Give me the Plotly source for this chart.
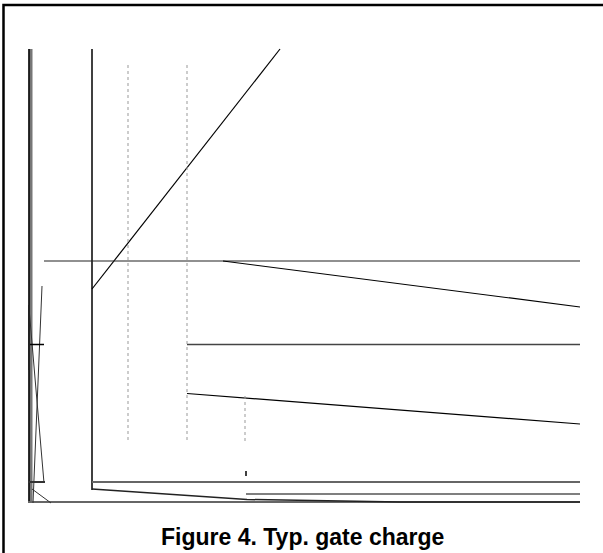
import plotly.graph_objects as go

# Segment data (drawing units, y grows downward)
frame_x = [603, 3.5, 3.5]
frame_y = [5, 5, 553]

axis_left_x = [30.5, 30.5]
axis_left_y = [49, 503]
axis_bottom_x = [28, 580]
axis_bottom_y = [502, 502]

vg_axis_x = [92, 92]
vg_axis_y = [49, 490]

ramp_x = [92, 280]
ramp_y = [289, 49]

plateau1_x = [44, 580]
plateau1_y = [261, 261]
slope1_x = [223, 580]
slope1_y = [261, 307]

plateau2_x = [187, 580]
plateau2_y = [344.5, 344.5]
slope2_x = [187, 580]
slope2_y = [393.5, 424]

low1_x = [92, 580]
low1_y = [482, 482]
low2_x = [246, 580]
low2_y = [494, 494]
low3_x = [92, 247, 400, 580]
low3_y = [489, 499.5, 502, 502]
tick_x = [246, 246]
tick_y = [471, 476]

dot_xs = [[128, 128], [187, 187], [245, 245]]
dot_ys = [[65, 443], [65, 443], [396, 443]]

left_a_x = [42, 33]
left_a_y = [286, 503]
left_b_x = [29, 44]
left_b_y = [308, 483]
left_c_x = [28, 44]
left_c_y = [344.5, 344.5]
left_d_x = [28, 45]
left_d_y = [482, 482]
left_e_x = [32, 51]
left_e_y = [489, 503]
left_f_x = [29, 29]
left_f_y = [305, 370]

title_text = "Figure 4. Typ. gate charge"

fig = go.Figure()

def seg(x, y, color="black", width=1.0, dash="solid"):
    fig.add_trace(go.Scatter(x=x, y=y, mode="lines",
                             line=dict(color=color, width=width, dash=dash),
                             hoverinfo="skip", showlegend=False))

seg(frame_x, frame_y, "black", 2.5)
seg(axis_left_x, axis_left_y, "#777", 4)
seg([29, 29], axis_left_y, "black", 1.5)
seg(axis_bottom_x, axis_bottom_y, "#666", 2)
seg(vg_axis_x, vg_axis_y, "black", 1.5)
seg(ramp_x, ramp_y, "black", 1.2)
seg(plateau1_x, plateau1_y, "#222", 1.2)
seg(slope1_x, slope1_y, "black", 1.2)
seg(plateau2_x, plateau2_y, "#444", 1.5)
seg(slope2_x, slope2_y, "black", 1.2)
seg(low1_x, low1_y, "#666", 2)
seg(low2_x, low2_y, "black", 1.2)
seg(low3_x, low3_y, "#222", 1.5)
seg(tick_x, tick_y, "black", 1.5)
for dx, dy in zip(dot_xs, dot_ys):
    seg(dx, dy, "#999", 1, "dot")
seg(left_a_x, left_a_y, "#333", 1)
seg(left_b_x, left_b_y, "#333", 1)
seg(left_c_x, left_c_y, "black", 1.5)
seg(left_d_x, left_d_y, "#333", 2)
seg(left_e_x, left_e_y, "#333", 1)
seg(left_f_x, left_f_y, "#222", 2)

fig.add_annotation(x=302, y=537, text="<b>" + title_text + "</b>", showarrow=False,
                   xref="x", yref="y",
                   font=dict(family="Liberation Sans, Arial", size=23, color="black"))

fig.update_layout(width=603, height=553, margin=dict(l=0, r=0, t=0, b=0),
                  paper_bgcolor="white", plot_bgcolor="white",
                  xaxis=dict(range=[0, 603], visible=False, fixedrange=True),
                  yaxis=dict(range=[553, 0], visible=False, fixedrange=True))

fig.write_html("out.html", config={"displayModeBar": False},
               post_script="document.body.style.margin='0';document.body.style.overflow='hidden';")
